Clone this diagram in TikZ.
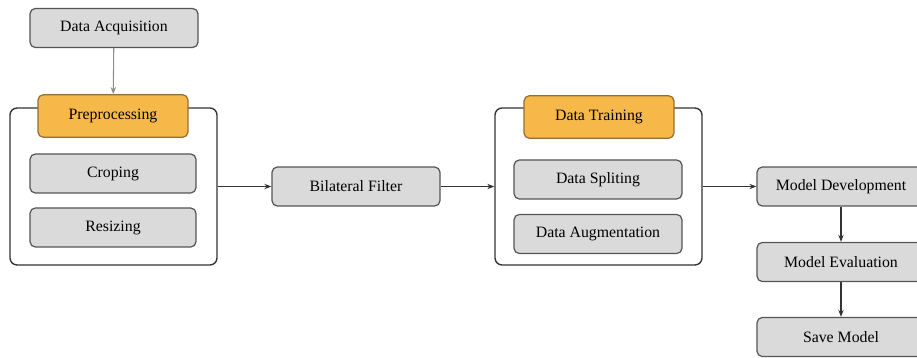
\documentclass[tikz,border=0pt]{standalone}
\usepackage{fontspec}
\setmainfont{Liberation Serif}
\usetikzlibrary{arrows.meta}
\definecolor{boxgray}{RGB}{218,218,218}
\definecolor{edgegray}{RGB}{85,85,85}
\definecolor{headorange}{RGB}{246,184,72}
\definecolor{headedge}{RGB}{150,110,50}

\begin{document}
\begin{tikzpicture}[x=0.02cm,y=-0.02cm,
  every node/.style={font=\fontsize{9}{11}\selectfont},
  stepbox/.style={draw=edgegray,fill=boxgray,rounded corners=3pt,
    minimum width=3.36cm,minimum height=0.78cm,inner sep=0pt,line width=0.7pt},
  headbox/.style={draw=headedge,fill=headorange,rounded corners=3pt,
    minimum width=3.0cm,minimum height=0.85cm,inner sep=0pt,line width=0.7pt},
  groupbox/.style={draw=black!80,rounded corners=4pt,
    minimum width=4.14cm,minimum height=3.14cm,inner sep=0pt,line width=0.8pt},
  flow/.style={draw=black!80,line width=0.8pt,-{Stealth[length=4pt,width=3pt]}}]
  \useasboundingbox (0,0) rectangle (917,358);
  % preprocessing group
  \node[stepbox] (acq) at (114,28) {Data Acquisition};
  \node[groupbox] (pre) at (113.5,186.5) {};
  \node[headbox] (prehead) at (113,116) {Preprocessing};
  \node[stepbox,minimum width=3.32cm] (crop) at (113,173.5) {Croping};
  \node[stepbox,minimum width=3.32cm] (resize) at (113,227.5) {Resizing};
  % filter
  \node[stepbox] (filter) at (356,186.5) {Bilateral Filter};
  % training group
  \node[groupbox] (train) at (598.5,186.5) {};
  \node[headbox] (trainhead) at (599,117) {Data Training};
  \node[stepbox] (split) at (598,179.5) {Data Spliting};
  \node[stepbox] (augment) at (598,234) {Data Augmentation};
  % model
  \node[stepbox] (develop) at (841,186.5) {Model Development};
  \node[stepbox] (evaluate) at (841,262) {Model Evaluation};
  \node[stepbox] (save) at (841,337) {Save Model};
  % connectors
  \draw[flow,draw=black!45,line width=0.6pt] (acq) -- (prehead);
  \draw[flow] (pre.east) -- (filter.west);
  \draw[flow] (filter.east) -- (train.west);
  \draw[flow] (train.east) -- (develop.west);
  \draw[flow] (develop) -- (evaluate);
  \draw[flow] (evaluate) -- (save);
\end{tikzpicture}
\end{document}
